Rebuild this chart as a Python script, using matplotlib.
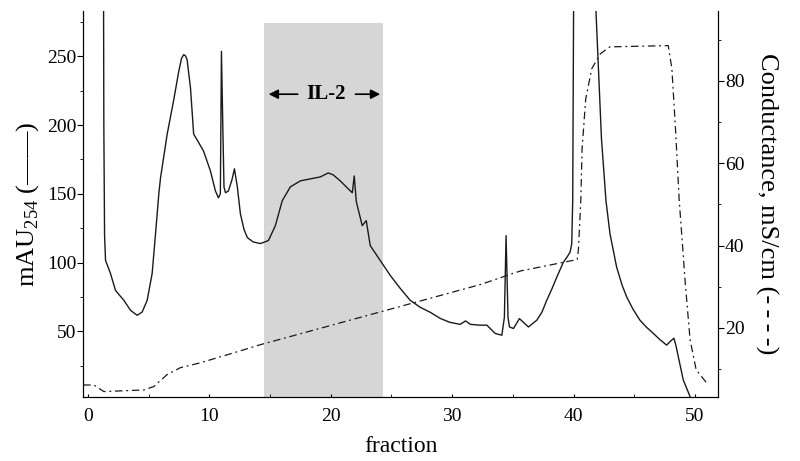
import matplotlib
matplotlib.use("Agg")
import matplotlib.pyplot as plt

plt.rcParams["font.family"] = ["Liberation Serif", "DejaVu Serif"]
plt.rcParams["mathtext.fontset"] = "custom"
plt.rcParams["mathtext.rm"] = "Liberation Serif"

# absorbance trace, mAU at 254 nm (left axis)
uv_fraction = [1.25, 1.30, 1.36, 1.44, 1.85, 2.26, 2.95, 3.5, 4.05, 4.46, 4.87, 5.28,
               5.56, 5.83, 5.97, 6.52, 7.04, 7.47, 7.7, 7.88, 8.02, 8.16, 8.44, 8.7,
               9.12, 9.51, 10.08, 10.49, 10.74, 10.9, 10.99, 11.1, 11.2, 11.32, 11.56,
               11.85, 12.06, 12.3, 12.55, 12.85, 13.13, 13.6, 14.2, 14.86, 15.43, 16.0,
               16.67, 17.49, 18.31, 19.14, 19.79, 20.2, 20.78, 21.44, 21.77, 21.93, 22.1,
               22.59, 22.92, 23.25, 24.07, 24.9, 25.3, 25.72, 26.54, 27.37, 28.19, 29.0,
               29.8, 30.66, 31.1, 31.5, 32.3, 32.86, 33.54, 34.09, 34.3, 34.44, 34.6,
               34.72, 35.05, 35.54, 36.28, 36.97, 37.4, 37.79, 38.2, 38.62, 39.16, 39.5,
               39.71, 39.85, 39.93, 40.0, 41.0, 41.85, 42.3, 42.67, 43.0, 43.55, 44.0,
               44.38, 44.9, 45.47, 46.0, 46.55, 47.1, 47.67, 47.9, 48.08, 48.27, 48.45,
               48.63, 49.04, 49.6, 50.0]
uv_mau = [400, 200, 120, 101.5, 92, 79.7, 72.5, 65.2, 61.6, 64, 72.5, 92,
          121, 150, 161.6, 193.5, 217.4, 239, 248.5, 251.3, 250.5, 247.6, 227, 193.5,
          187.2, 181.2, 166.7, 152.2, 147.1, 150, 253.7, 200, 155, 150.8, 152,
          160, 168.2, 155, 135.5, 124, 118.1, 115, 113.8, 116, 126.8, 145,
          155.1, 159.4, 160.9, 162.3, 165.2, 163.8, 159.4, 153.6, 150.8, 163, 144.3,
          126.8, 130.5, 112.3, 101.5, 90.6, 86, 81.2, 72.5, 67.4, 63.8, 59.4,
          56.5, 55, 57.5, 55, 54.4, 54.4, 48.4, 47.1, 60, 119.6, 60,
          53.1, 52, 59.2, 53.1, 58, 64, 72.5, 80.5, 89.4, 100.2, 104.5,
          107.5, 113.6, 145, 282, 450, 282, 190, 145, 121, 96.6, 83.5,
          74.9, 66, 58, 53, 48.6, 44, 39.9, 42, 43.5, 44.9, 39,
          31.4, 14.5, 2.4, -5]

# conductivity trace, mS/cm (right axis)
cond_fraction = [-0.4, 0.48, 1.3, 4.6, 5.4, 6.5, 7.6, 9.26, 11.98, 14.2, 32.3, 35.6,
                 40.3, 40.4, 40.6, 40.7, 41.0, 41.5, 42.2, 43.0, 47.8, 48.1, 48.4,
                 48.7, 49.2, 49.6, 50.1, 51.1]
cond_ms = [6.1, 6.1, 4.5, 4.9, 5.7, 8.6, 10.3, 11.5, 13.9, 15.9, 30.5, 33.8,
           36.6, 39, 51.2, 63.4, 75.6, 83, 86.6, 88.3, 88.6, 83, 68.3,
           51.2, 31, 17.1, 9.8, 6.1]

il2_start, il2_end = 14.5, 24.3

fig, ax = plt.subplots(figsize=(8, 4.61), dpi=100)
fig.subplots_adjust(left=0.104, right=0.8975, top=0.976, bottom=0.139)

ax.fill_between([il2_start, il2_end], -10, 274, color="#d6d6d6", lw=0, zorder=0)
ax.plot(uv_fraction, uv_mau, color="#1a1a1a", lw=1.0, zorder=2)

ax.set_xlim(-0.4, 51.9)
ax.set_ylim(2.2, 283)
ax.set_xticks([0, 10, 20, 30, 40, 50])
ax.set_xticks(range(0, 52, 5), minor=True)
ax.set_yticks([50, 100, 150, 200, 250])
ax.set_yticks([25, 75, 125, 175, 225, 275], minor=True)
ax.tick_params(axis="y", which="major", direction="out", length=4, labelsize=14, pad=1)
ax.tick_params(axis="y", which="minor", direction="out", length=2)
ax.tick_params(axis="x", which="both", direction="in", length=2, labelsize=14, pad=8)
ax.spines["top"].set_visible(False)
ax.set_xlabel("fraction", fontsize=17, labelpad=8)
ax.set_ylabel("mAU$_{254}$ (——)", fontsize=19, labelpad=4)

# IL-2 window marker
ax.annotate("", xy=(il2_start + 0.15, 222.5), xytext=(17.5, 222.5),
            arrowprops=dict(arrowstyle="-|>", color="black", lw=1.2, mutation_scale=14))
ax.annotate("", xy=(il2_end, 222.5), xytext=(21.8, 222.5),
            arrowprops=dict(arrowstyle="-|>", color="black", lw=1.2, mutation_scale=14))
ax.text(19.6, 222.5, "IL-2", ha="center", va="center", fontsize=15, fontweight="bold")

ax2 = ax.twinx()
ax2.plot(cond_fraction, cond_ms, color="#1a1a1a", lw=0.9, linestyle=(0, (6, 3, 1.5, 3)))
ax2.set_ylim(3.2, 97)
ax2.set_yticks([20, 40, 60, 80])
ax2.set_yticks([10, 30, 50, 70, 90], minor=True)
ax2.tick_params(axis="y", which="major", direction="out", length=4, labelsize=14, pad=1)
ax2.tick_params(axis="y", which="minor", direction="out", length=2)
ax2.spines["top"].set_visible(False)
ax2.set_ylabel("Conductance, mS/cm (-\u2009-\u2009-\u2009-)", fontsize=19, rotation=270,
               labelpad=24)

fig.savefig("out.png", dpi=100)
